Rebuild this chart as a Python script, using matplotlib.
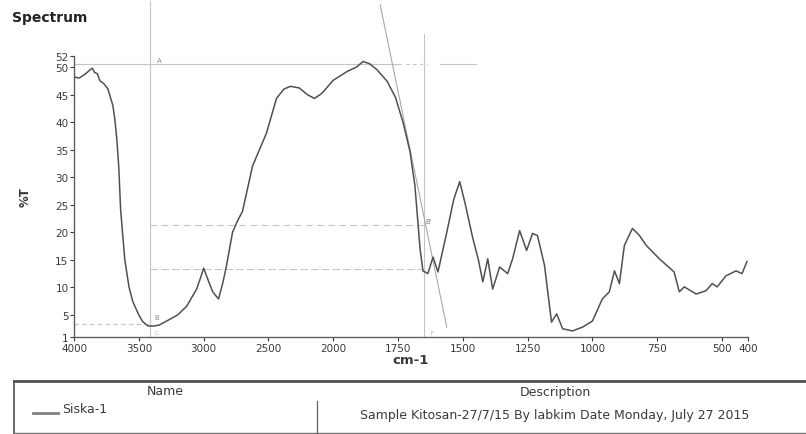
import numpy as np
import matplotlib
matplotlib.use("Agg")
import matplotlib.pyplot as plt

# Spectrum data
wavenumber = [4000, 3960, 3920, 3880, 3860, 3840, 3820, 3800, 3770, 3738,
              3700, 3685, 3670, 3655, 3640, 3608, 3575, 3546, 3500, 3470,
              3430, 3380, 3340, 3285, 3200, 3130, 3054, 3020, 3000, 2960,
              2930, 2885, 2850, 2823, 2777, 2740, 2700, 2623, 2515, 2438,
              2380, 2330, 2262, 2200, 2146, 2100, 2077, 2000, 1946, 1910,
              1885, 1860, 1831, 1792, 1760, 1731, 1704, 1685, 1665, 1654,
              1635, 1615, 1596, 1562, 1535, 1512, 1490, 1462, 1440, 1423,
              1404, 1385, 1358, 1327, 1308, 1281, 1254, 1231, 1212, 1185,
              1158, 1138, 1115, 1077, 1038, 1000, 962, 935, 915, 896,
              877, 846, 820, 792, 742, 685, 665, 646, 600, 562,
              538, 519, 485, 446, 423, 404]
transmittance = [48.2, 48.0, 48.6, 49.4, 49.8, 49.0, 48.8, 47.5, 47.0, 46.0,
                 43.0, 40.5, 37.0, 32.0, 24.0, 15.0, 10.0, 7.4, 5.0, 3.8,
                 3.0, 3.0, 3.2, 3.9, 5.0, 6.6, 9.7, 12.0, 13.5, 11.0,
                 9.2, 7.9, 11.0, 14.0, 20.0, 22.0, 23.8, 32.0, 38.0, 44.3,
                 46.0, 46.5, 46.2, 45.0, 44.3, 45.0, 45.5, 47.6, 49.2, 50.0,
                 51.0, 50.6, 49.5, 47.4, 44.5, 40.0, 34.7, 28.5, 17.0, 13.0,
                 12.5, 15.5, 12.8, 20.0, 26.0, 29.2, 25.0, 19.0, 15.0, 11.0,
                 15.2, 9.7, 13.7, 12.5, 15.2, 20.3, 16.7, 19.8, 19.4, 14.0,
                 3.7, 5.2, 2.5, 2.1, 2.8, 3.9, 7.9, 9.2, 13.0, 10.7,
                 17.6, 20.7, 19.5, 17.6, 15.2, 12.8, 9.2, 10.1, 8.8, 9.4,
                 10.7, 10.1, 12.1, 13.0, 12.5, 14.7]

x_ticks = [4000, 3500, 3000, 2500, 2000, 1750, 1500, 1250, 1000, 750, 500, 400]
y_ticks = [1, 5, 10, 15, 20, 25, 30, 35, 40, 45, 50, 52]

# cursor / marker lines left on the scan
cursor_a_y = 50.5
cursor_b_y = 3.3
cursor_c_y = [21.4, 13.4]
cursor_x = [3415, 1650]
tangent_x = [1819, 1562]
tangent_y = [61.3, 2.8]

legend_name = "Siska-1"
legend_desc = "Sample Kitosan-27/7/15 By labkim Date Monday, July 27 2015"


def fwd(x):
    x = np.asarray(x, dtype=float)
    return np.where(x > 2000, 2000 + (x - 2000) / 2, x)


def inv(u):
    u = np.asarray(u, dtype=float)
    return np.where(u > 2000, 2000 + (u - 2000) * 2, u)


curve_col = "#505050"
mark_col = "#c4c4c4"
text_col = "#3a3a3a"

fig = plt.figure(figsize=(8.06, 4.35), dpi=100)
ax = fig.add_axes([74 / 806, 97 / 435, 674 / 806, 281 / 435])
ax.set_xscale("function", functions=(fwd, inv))
ax.set_xlim(4000, 400)
ax.set_ylim(1, 52)

# marker lines
ax.plot([4000, 1740], [cursor_a_y] * 2, color=mark_col, lw=0.8)
ax.plot([1720, 1640], [cursor_a_y] * 2, color=mark_col, lw=0.8, ls=(0, (3, 3)))
ax.plot([1590, 1450], [cursor_a_y] * 2, color=mark_col, lw=0.8)
ax.plot([4000, cursor_x[0]], [cursor_b_y] * 2, color=mark_col, lw=0.8, ls=(0, (4, 3)))
ax.plot([cursor_x[0], 1650], [cursor_c_y[0]] * 2, color=mark_col, lw=0.8, ls=(0, (6, 4)))
ax.plot([cursor_x[0], 1650], [cursor_c_y[1]] * 2, color=mark_col, lw=0.7, ls=(0, (8, 3)))
ax.plot([cursor_x[0]] * 2, [1, 62], color=mark_col, lw=0.8, clip_on=False)
ax.plot([cursor_x[1]] * 2, [1, 56], color=mark_col, lw=0.8, clip_on=False)
ax.plot(tangent_x, tangent_y, color="#a8a8a8", lw=0.8, clip_on=False)
ax.text(3338, 51.3, "A", fontsize=5, color="#888888", ha="center", va="center")
ax.text(3360, 4.6, "B", fontsize=5, color="#888888", ha="center", va="center")
ax.text(3360, 1.9, "C", fontsize=4, color="#aaaaaa", ha="center", va="center")
ax.text(1632, 22.0, "B'", fontsize=5, color="#888888", ha="center", va="center")
ax.text(1620, 1.9, "F", fontsize=4, color="#aaaaaa", ha="center", va="center")

# spectrum
ax.plot(wavenumber, transmittance, color=curve_col, lw=1.1)

ax.set_xticks(x_ticks)
ax.set_xticklabels([str(t) for t in x_ticks])
ax.set_yticks(y_ticks)
ax.set_yticklabels([str(t) for t in y_ticks])
ax.minorticks_off()
ax.tick_params(axis="both", labelsize=7.5, colors=text_col, length=3,
               width=0.8, pad=1)
for s in ["top", "right"]:
    ax.spines[s].set_visible(False)
for s in ["left", "bottom"]:
    ax.spines[s].set_color("#606060")
    ax.spines[s].set_linewidth(1.0)
ax.set_xlabel("cm-1", fontsize=9.5, fontweight="bold", color=text_col, labelpad=0)
ax.set_ylabel("%T", fontsize=8.5, fontweight="bold", color=text_col, labelpad=17)

fig.text(12 / 806, 1 - 18 / 435, "Spectrum", fontsize=10, fontweight="bold",
         color="#222222", ha="left", va="center")

# table below the chart, in pixel coordinates
tab = fig.add_axes([0, 0, 1, 1])
tab.set_xlim(0, 806)
tab.set_ylim(435, 0)
tab.axis("off")
tab.plot([14, 806], [382, 382], color="#505050", lw=2.0)
tab.plot([14, 14], [382, 435], color="#505050", lw=1.2)
tab.plot([14, 806], [434, 434], color="#707070", lw=1.0)
tab.plot([317, 317], [402, 434], color="#606060", lw=0.9)
tab.text(165, 392, "Name", fontsize=9, color=text_col, ha="center", va="center")
tab.text(555, 393, "Description", fontsize=9, color=text_col, ha="center", va="center")
tab.plot([33, 58], [414, 414], color="#808080", lw=2.0)
tab.text(62, 410, legend_name, fontsize=9, color=text_col, ha="left", va="center")
tab.text(555, 416, legend_desc, fontsize=9, color=text_col, ha="center", va="center")

fig.savefig("out.png", dpi=100)
